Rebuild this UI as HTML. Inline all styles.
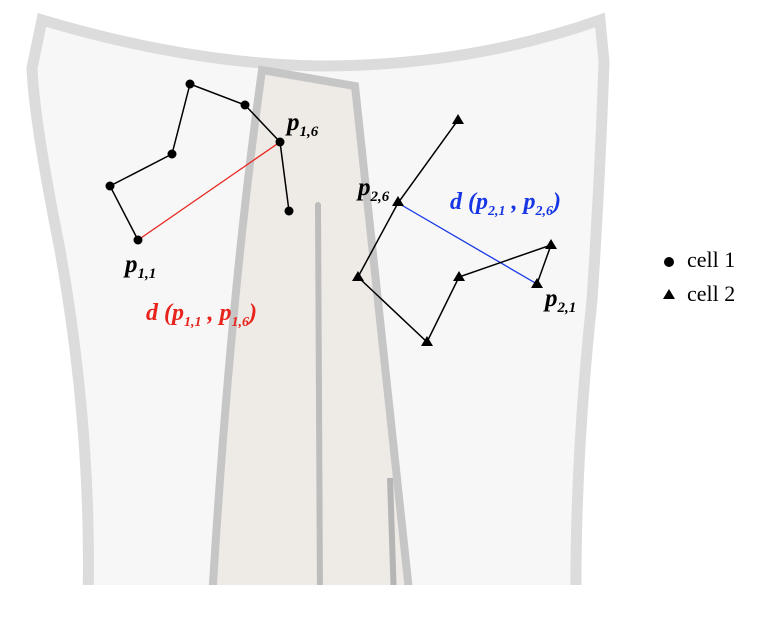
<!DOCTYPE html>
<html><head><style>body{margin:0;background:#fff}svg{display:block}</style></head><body>
<svg width="772" height="620" viewBox="0 0 772 620" xmlns="http://www.w3.org/2000/svg">
<defs><clipPath id="c"><rect x="0" y="0" width="772" height="585"/></clipPath></defs>
<g clip-path="url(#c)">
<path d="M42 20 Q190 64 320 66 Q470 66 600 20 L604 62 Q600 180 592 300 Q575 460 576 600 L88 600 Q92 430 60 250 Q34 120 32 68 Z" fill="#f7f7f7" stroke="#dcdcdc" stroke-width="11"/>
<path d="M262 70 L355 86 L410 600 L212 600 Q230 300 262 70 Z" fill="#eeeae5" stroke="#c6c6c6" stroke-width="8"/>
<line x1="318" y1="205" x2="320" y2="600" stroke="#bdbdbd" stroke-width="6" stroke-linecap="round"/>
<line x1="390" y1="478" x2="394" y2="600" stroke="#b5b5b5" stroke-width="6"/>
</g>
<line x1="138" y1="240" x2="280" y2="142" stroke="#e8231c" stroke-width="1.3"/>
<polyline points="138,240 110,186 172,154 190,84 245,105 280,142 289,211" fill="none" stroke="#000" stroke-width="1.5"/>
<g fill="#000">
<circle cx="138" cy="240" r="4.5"/><circle cx="110" cy="186" r="4.5"/><circle cx="172" cy="154" r="4.5"/><circle cx="190" cy="84" r="4.5"/><circle cx="245" cy="105" r="4.5"/><circle cx="280" cy="142" r="4.5"/><circle cx="289" cy="211" r="4.5"/>
</g>
<line x1="398" y1="203" x2="537" y2="284" stroke="#1636e6" stroke-width="1.3"/>
<polyline points="458,120 398,203 358,277 427,342 459,277 551,245 537,284" fill="none" stroke="#000" stroke-width="1.5"/>
<g fill="#000">
<path d="M458 114 l6 10 h-12z"/><path d="M398 196 l6 10 h-12z"/><path d="M358 271 l6 10 h-12z"/><path d="M427 336 l6 10 h-12z"/><path d="M459 271 l6 10 h-12z"/><path d="M551 239 l6 10 h-12z"/><path d="M537 278 l6 10 h-12z"/>
</g>
<g font-family="Liberation Serif, serif" font-style="italic" font-weight="bold">
<text x="125" y="272" font-size="25">p<tspan font-size="15" dy="6">1,1</tspan></text>
<text x="287" y="130" font-size="25">p<tspan font-size="15" dy="6">1,6</tspan></text>
<text x="358" y="195" font-size="25">p<tspan font-size="15" dy="6">2,6</tspan></text>
<text x="545" y="306" font-size="25">p<tspan font-size="15" dy="6">2,1</tspan></text>
<text x="146" y="320" font-size="24" fill="#e8231c">d (p<tspan font-size="14" dy="6">1,1</tspan><tspan dy="-6"> , p</tspan><tspan font-size="14" dy="6">1,6</tspan><tspan dy="-6">)</tspan></text>
<text x="450" y="209" font-size="24" fill="#1636e6">d (p<tspan font-size="14" dy="6">2,1</tspan><tspan dy="-6"> , p</tspan><tspan font-size="14" dy="6">2,6</tspan><tspan dy="-6">)</tspan></text>
</g>
<circle cx="669" cy="262" r="5" fill="#000"/>
<path d="M669 289 l6 10 h-12z" fill="#000"/>
<g font-family="Liberation Serif, serif" font-size="22" fill="#000">
<text x="687" y="267">cell 1</text>
<text x="687" y="301">cell 2</text>
</g>
</svg>
</body></html>
